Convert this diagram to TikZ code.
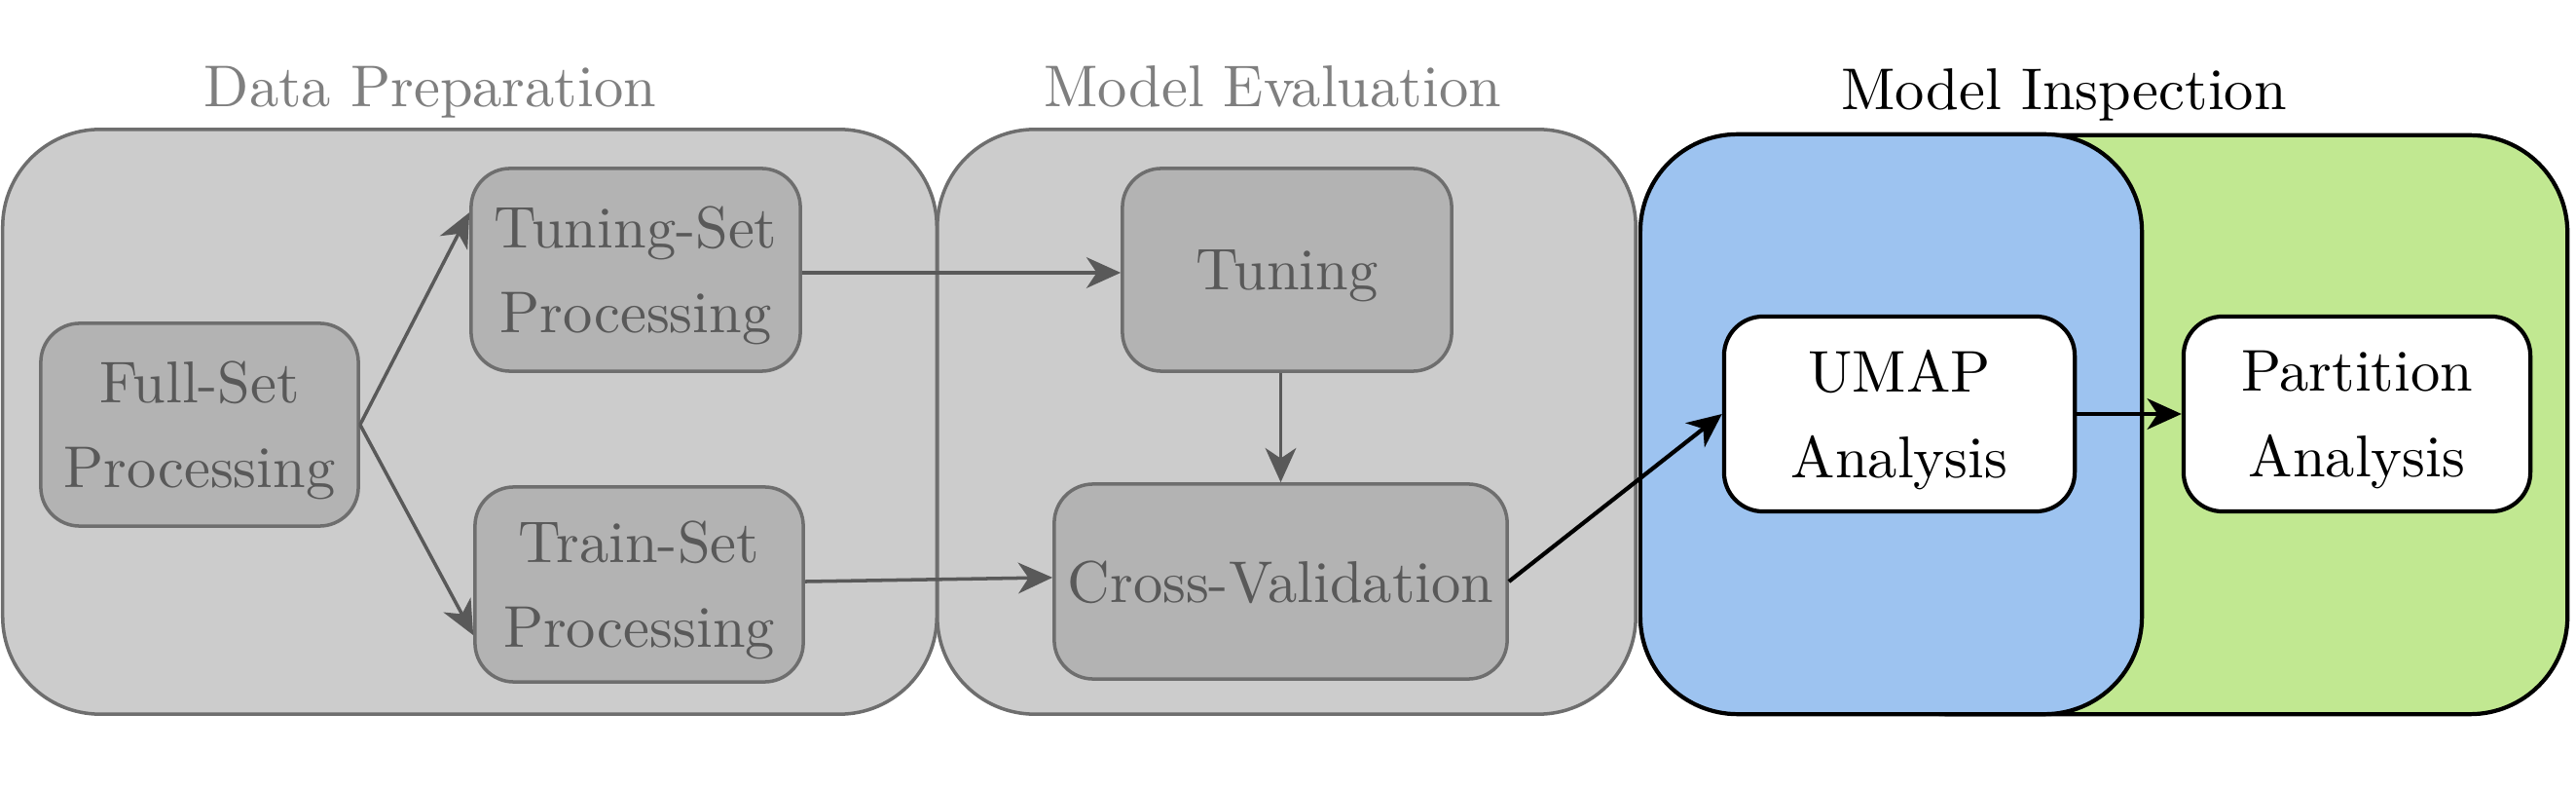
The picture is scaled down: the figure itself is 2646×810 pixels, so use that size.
\documentclass[tikz,border=0pt]{standalone}
\usepackage{fontspec}
\setmainfont{lmroman10-regular.otf}
\usetikzlibrary{arrows.meta}
\definecolor{bluebg}{HTML}{9DC3F0}
\definecolor{greenbg}{HTML}{C1E891}
\definecolor{grpfill}{HTML}{CCCCCC}
\definecolor{boxfill}{HTML}{B3B3B3}
\definecolor{grpdraw}{HTML}{6E6E6E}
\definecolor{txtgray}{HTML}{595959}
\definecolor{titlegray}{HTML}{7F7F7F}
\tikzset{
  grp/.style={draw=grpdraw, fill=grpfill, line width=1pt, rounded corners=1cm, inner sep=0pt},
  insp/.style={draw=black, line width=1.2pt, rounded corners=1cm, inner sep=0pt},
  graybox/.style={draw=grpdraw, fill=boxfill, line width=1pt, rounded corners=0.4cm, text=txtgray,
    align=center, inner sep=0pt, text depth=0pt, font=\fontsize{17.2}{24.7}\selectfont},
  whitebox/.style={draw=black, fill=white, line width=1.2pt, rounded corners=0.4cm, text=black,
    align=center, inner sep=0pt, text depth=0pt, font=\fontsize{17.2}{25}\selectfont},
  title/.style={anchor=base, font=\fontsize{17.2}{24}\selectfont},
  grayarrow/.style={draw=txtgray, line width=1pt, -{Stealth[length=10pt,width=9pt,inset=3pt]}},
  blackarrow/.style={draw=black, line width=1.2pt, -{Stealth[length=10pt,width=9pt,inset=3pt]}},
}
\begin{document}
\begin{tikzpicture}[x=0.01cm,y=-0.01cm]
\useasboundingbox (0,0) rectangle (2646,810);
% group boxes
\node[grp, minimum width=9.59cm, minimum height=6.0cm] (dp) at (482.5,433) {};
\node[grp, minimum width=7.17cm, minimum height=6.0cm] (me) at (1321.5,433) {};
\node[insp, fill=greenbg, minimum width=7.38cm, minimum height=5.94cm] (gr) at (2268,436) {};
\node[insp, fill=bluebg, minimum width=5.15cm, minimum height=5.95cm] (bl) at (1942.5,435.5) {};
% titles
\node[title, text=titlegray] (t1) at (442,110) {Data Preparation};
\node[title, text=titlegray] (t2) at (1307,110) {Model Evaluation};
\node[title, text=black] (t3) at (2120,113) {Model Inspection};
% inner boxes
\node[graybox, minimum width=3.26cm, minimum height=2.08cm] (full) at (205,436) {Full-Set\\Processing};
\node[graybox, minimum width=3.38cm, minimum height=2.08cm] (tset) at (653,277) {Tuning-Set\\Processing};
\node[graybox, minimum width=3.37cm, minimum height=2.0cm] (trset) at (656.5,600) {Train-Set\\Processing};
\node[graybox, minimum width=3.38cm, minimum height=2.08cm] (tun) at (1322,277) {Tuning};
\node[graybox, minimum width=4.65cm, minimum height=2.0cm] (cv) at (1315.5,597) {Cross-Validation};
\node[whitebox, minimum width=3.6cm, minimum height=2.0cm] (umap) at (1951,425) {UMAP\\Analysis};
\node[whitebox, minimum width=3.56cm, minimum height=2.0cm] (part) at (2421,425) {Partition\\Analysis};
% connectors
\draw[grayarrow] (full.east) -- (tset.161);
\draw[grayarrow] (full.east) -- (trset.197);
\draw[grayarrow] (tset.-1.5) -- (tun.181.5);
\draw[grayarrow] (trset.1.7) -- (cv.179.5);
\draw[grayarrow] (tun.south -| cv.north) -- (cv.north);
\draw[blackarrow] (cv.east) -- (umap.west);
\draw[blackarrow] (umap.east) -- (part.west);
\end{tikzpicture}
\end{document}
